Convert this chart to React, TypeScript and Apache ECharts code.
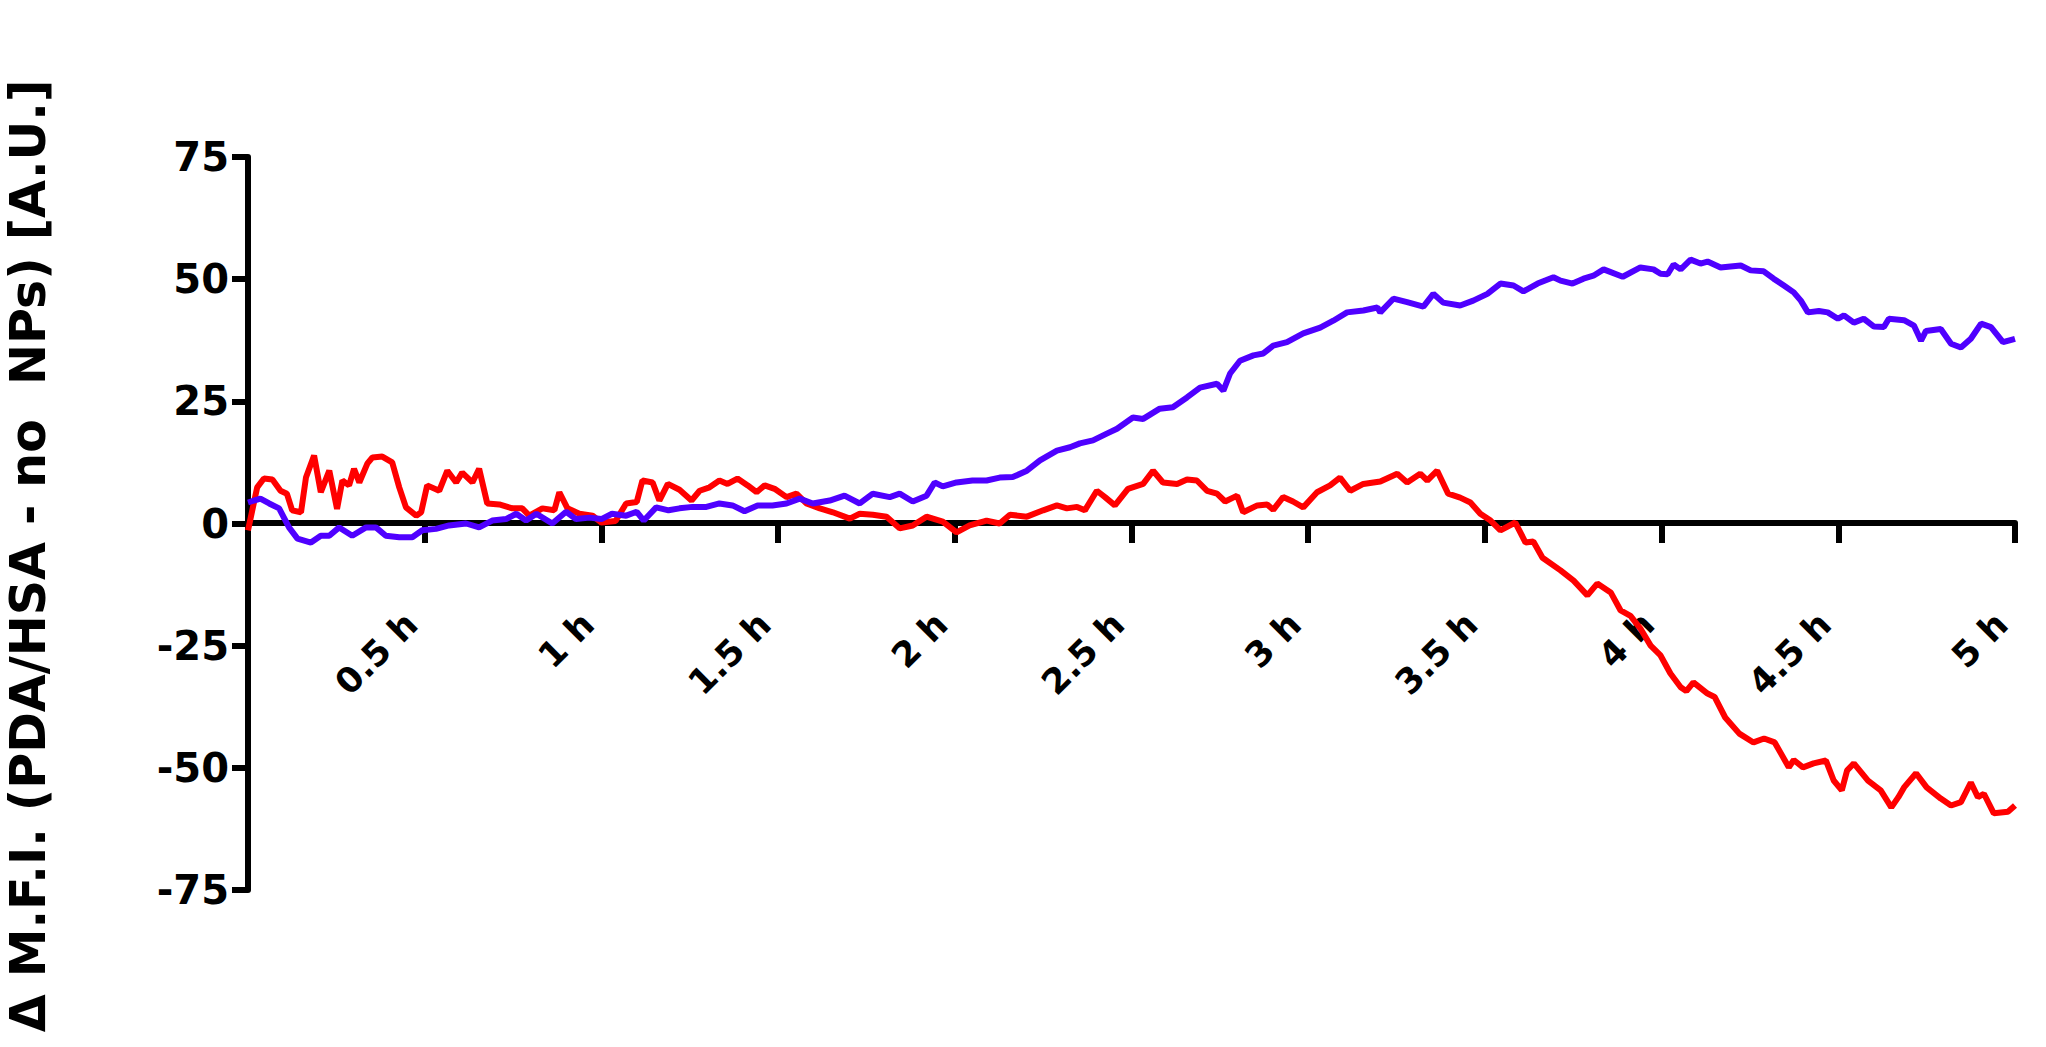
import React, { useEffect, useRef } from "react";
import * as echarts from "echarts";

// time (h), value
const blueData: [number, number][] = [
  [0, 4.3], [0.035, 5.1], [0.06, 4.1], [0.088, 3.1], [0.116, -0.8], [0.14, -3.1], [0.178, -3.9],
  [0.206, -2.5], [0.23, -2.5], [0.258, -0.8], [0.295, -2.5], [0.334, -0.8], [0.362, -0.8],
  [0.39, -2.5], [0.428, -2.8], [0.465, -2.8], [0.493, -1.4], [0.532, -1.1], [0.569, -0.4],
  [0.617, 0], [0.654, -0.8], [0.691, 0.6], [0.73, 0.9], [0.759, 2], [0.787, 0.6], [0.816, 2],
  [0.861, 0], [0.9, 2.4], [0.928, 0.9], [0.966, 1.2], [1.0, 0.9], [1.03, 2], [1.07, 1.6],
  [1.1, 2.4], [1.12, 0.6], [1.155, 3.3], [1.19, 2.7], [1.221, 3.1], [1.258, 3.4], [1.297, 3.4],
  [1.334, 4.1], [1.371, 3.7], [1.405, 2.5], [1.442, 3.7], [1.484, 3.7], [1.524, 4.1],
  [1.561, 5.1], [1.598, 4.1], [1.646, 4.7], [1.688, 5.7], [1.731, 4.1], [1.768, 6.1],
  [1.816, 5.4], [1.844, 6.1], [1.881, 4.5], [1.92, 5.7], [1.943, 8.4], [1.966, 7.6],
  [2.005, 8.4], [2.05, 8.8], [2.09, 8.8], [2.127, 9.4], [2.164, 9.5], [2.204, 10.8],
  [2.241, 12.9], [2.289, 14.9], [2.326, 15.6], [2.354, 16.4], [2.391, 17], [2.43, 18.4],
  [2.459, 19.4], [2.504, 21.7], [2.533, 21.4], [2.58, 23.5], [2.617, 23.8], [2.657, 25.8],
  [2.694, 27.8], [2.742, 28.6], [2.76, 27.2], [2.779, 30.7], [2.807, 33.3], [2.845, 34.4],
  [2.873, 34.8], [2.901, 36.4], [2.94, 37.1], [2.986, 38.9], [3.034, 40.1], [3.071, 41.5],
  [3.11, 43.2], [3.156, 43.6], [3.196, 44.2], [3.204, 43.2], [3.241, 46], [3.28, 45.3],
  [3.326, 44.4], [3.354, 47], [3.382, 45.2], [3.43, 44.6], [3.467, 45.6], [3.507, 47],
  [3.544, 49.1], [3.581, 48.7], [3.609, 47.5], [3.649, 49.1], [3.694, 50.4], [3.714, 49.7],
  [3.748, 49.1], [3.779, 50.1], [3.807, 50.7], [3.836, 52], [3.89, 50.5], [3.94, 52.4],
  [3.977, 52], [3.997, 51.1], [4.017, 51], [4.034, 53], [4.054, 52], [4.082, 54], [4.11, 53.2],
  [4.13, 53.6], [4.167, 52.4], [4.195, 52.6], [4.224, 52.8], [4.252, 51.8], [4.289, 51.6],
  [4.317, 50.1], [4.346, 48.7], [4.374, 47.3], [4.394, 45.6], [4.414, 43.2], [4.445, 43.5],
  [4.47, 43.2], [4.499, 41.9], [4.516, 42.6], [4.544, 41.1], [4.572, 41.9], [4.601, 40.3],
  [4.629, 40.2], [4.643, 41.9], [4.686, 41.6], [4.714, 40.5], [4.734, 37.4], [4.748, 39.4],
  [4.79, 39.8], [4.819, 36.8], [4.847, 36], [4.875, 37.8], [4.904, 40.9], [4.932, 40.2],
  [4.966, 37.1], [5.0, 37.8],
];

const redData: [number, number][] = [
  [0, -1.4], [0.026, 7.4], [0.045, 9.2], [0.069, 9], [0.092, 6.7], [0.11, 6.1], [0.125, 2.7],
  [0.15, 2.3], [0.164, 9.4], [0.187, 13.9], [0.206, 6.4], [0.23, 10.8], [0.252, 3], [0.267, 8.8],
  [0.286, 7.8], [0.3, 11.2], [0.315, 8.4], [0.338, 12.3], [0.352, 13.5], [0.38, 13.7],
  [0.408, 12.5], [0.428, 7.4], [0.447, 3.3], [0.476, 1.6], [0.49, 2.3], [0.507, 7.8],
  [0.541, 6.7], [0.564, 10.8], [0.589, 8.4], [0.606, 10.4], [0.635, 8.4], [0.654, 11.2],
  [0.677, 4.1], [0.711, 3.9], [0.748, 3.1], [0.776, 3.1], [0.796, 1.6], [0.833, 3.1],
  [0.867, 2.7], [0.881, 6.4], [0.904, 3.1], [0.938, 2], [0.975, 1.6], [1.0, 0.2], [1.04, 0.5],
  [1.07, 4.1], [1.1, 4.4], [1.116, 8.8], [1.145, 8.4], [1.164, 4.7], [1.188, 8.1], [1.221, 6.9],
  [1.255, 4.7], [1.278, 6.7], [1.306, 7.4], [1.334, 8.8], [1.357, 8.1], [1.385, 9.2],
  [1.414, 7.8], [1.439, 6.4], [1.462, 7.8], [1.49, 7.1], [1.524, 5.4], [1.552, 6.1], [1.58, 4.1],
  [1.618, 3.1], [1.655, 2.3], [1.703, 1], [1.731, 2], [1.768, 1.8], [1.807, 1.4], [1.844, -1],
  [1.881, -0.4], [1.92, 1.4], [1.966, 0.4], [2.005, -1.8], [2.042, -0.4], [2.09, 0.6],
  [2.127, 0], [2.156, 1.8], [2.204, 1.4], [2.25, 2.7], [2.289, 3.7], [2.317, 3.1], [2.346, 3.4],
  [2.368, 2.7], [2.402, 6.7], [2.425, 5.4], [2.453, 3.7], [2.49, 7.1], [2.533, 8.1],
  [2.561, 10.8], [2.589, 8.4], [2.629, 8.1], [2.657, 9], [2.685, 8.8], [2.714, 6.7],
  [2.742, 6.1], [2.765, 4.5], [2.799, 5.7], [2.816, 2.3], [2.856, 3.7], [2.884, 3.9],
  [2.901, 2.8], [2.929, 5.4], [2.957, 4.5], [2.986, 3.3], [3.025, 6.4], [3.062, 7.8],
  [3.09, 9.4], [3.119, 6.7], [3.156, 8.1], [3.204, 8.6], [3.252, 10.2], [3.28, 8.4],
  [3.317, 10.2], [3.337, 8.8], [3.365, 10.8], [3.396, 6.1], [3.43, 5.3], [3.459, 4.3],
  [3.487, 2], [3.516, 0.6], [3.544, -1.4], [3.586, 0.2], [3.615, -3.9], [3.637, -3.7],
  [3.663, -7], [3.714, -9.6], [3.751, -11.7], [3.79, -14.7], [3.818, -12.3], [3.856, -14.1],
  [3.884, -17.8], [3.912, -18.9], [3.94, -21.5], [3.969, -25], [3.997, -27], [4.025, -30.7],
  [4.054, -33.5], [4.07, -34.3], [4.09, -32.5], [4.13, -34.8], [4.15, -35.5], [4.18, -39.7],
  [4.22, -43], [4.26, -44.8], [4.29, -44], [4.32, -44.8], [4.36, -49.9], [4.374, -48.4],
  [4.4, -49.9], [4.43, -49.1], [4.465, -48.5], [4.487, -52.6], [4.51, -54.6], [4.525, -50.5],
  [4.544, -49.1], [4.584, -52.6], [4.62, -54.6], [4.65, -58.1], [4.67, -56], [4.686, -54],
  [4.72, -51.1], [4.75, -54], [4.79, -56.3], [4.819, -57.7], [4.847, -57], [4.875, -53],
  [4.895, -56], [4.912, -55.3], [4.94, -59.3], [4.98, -59], [5.0, -57.7],
];

const yTitle = "\u0394 M.F.I. (PDA/HSA - no  NPs) [A.U.]";
const xMin = 0;
const xMax = 5;
const xStep = 0.5;
const yMin = -75;
const yMax = 75;
const yStep = 25;

const FONT = "'DejaVu Sans', Verdana, sans-serif";

export default function App() {
  const ref = useRef<HTMLDivElement>(null);
  useEffect(() => {
    if (!ref.current) return;
    const chart = echarts.init(ref.current, null, { renderer: "svg" });
    const axisStyle = { color: "#000", width: 6 };
    chart.setOption({
      animation: false,
      backgroundColor: "#ffffff",
      grid: [
        { left: 248, right: 31, top: 157, bottom: 157, outerBoundsMode: "none" },
        // upper half grid whose bottom edge sits on the zero line; carries the time axis
        { left: 248, right: 31, top: 157, bottom: 524, outerBoundsMode: "none" },
      ],
      xAxis: [
        {
          type: "value",
          gridIndex: 0,
          min: xMin,
          max: xMax,
          interval: xStep,
          show: false,
        },
        {
          type: "value",
          gridIndex: 1,
          position: "bottom",
          min: xMin,
          max: xMax,
          interval: xStep,
          axisLine: { show: true, onZero: false, lineStyle: axisStyle },
          axisTick: { show: true, length: 20, lineStyle: axisStyle },
          splitLine: { show: false },
          axisLabel: {
            rotate: 45,
            margin: 82,
            padding: [0, 19, 0, 0],
            fontSize: 35,
            fontWeight: "bold",
            fontFamily: FONT,
            color: "#000",
            formatter: (v: number) => (v === 0 ? "" : `${v} h`),
          },
        },
      ],
      yAxis: [
        {
          type: "value",
          gridIndex: 0,
          min: yMin,
          max: yMax,
          interval: yStep,
          axisLine: { show: true, onZero: false, lineStyle: axisStyle },
          axisTick: { show: true, length: 16, lineStyle: axisStyle },
          splitLine: { show: false },
          axisLabel: {
            margin: 19,
            fontSize: 40,
            fontWeight: "bold",
            fontFamily: FONT,
            color: "#000",
          },
        },
        {
          type: "value",
          gridIndex: 1,
          min: 0,
          max: 75,
          show: false,
        },
      ],
      graphic: [
        {
          type: "text",
          x: 28,
          y: 556,
          rotation: Math.PI / 2,
          style: {
            text: yTitle,
            font: `bold 49px ${FONT}`,
            fill: "#000",
            textAlign: "center",
            textVerticalAlign: "middle",
          },
        },
      ],
      series: [
        {
          type: "line",
          xAxisIndex: 0,
          yAxisIndex: 0,
          data: redData,
          showSymbol: false,
          lineStyle: { color: "#ff0000", width: 6 },
          itemStyle: { color: "#ff0000" },
        },
        {
          type: "line",
          xAxisIndex: 0,
          yAxisIndex: 0,
          data: blueData,
          showSymbol: false,
          lineStyle: { color: "#4f00ff", width: 6 },
          itemStyle: { color: "#4f00ff" },
        },
      ],
    });
    return () => chart.dispose();
  }, []);
  return (
    <div
      ref={ref}
      style={{ position: "fixed", left: 0, top: 0, width: 2046, height: 1047 }}
    />
  );
}
